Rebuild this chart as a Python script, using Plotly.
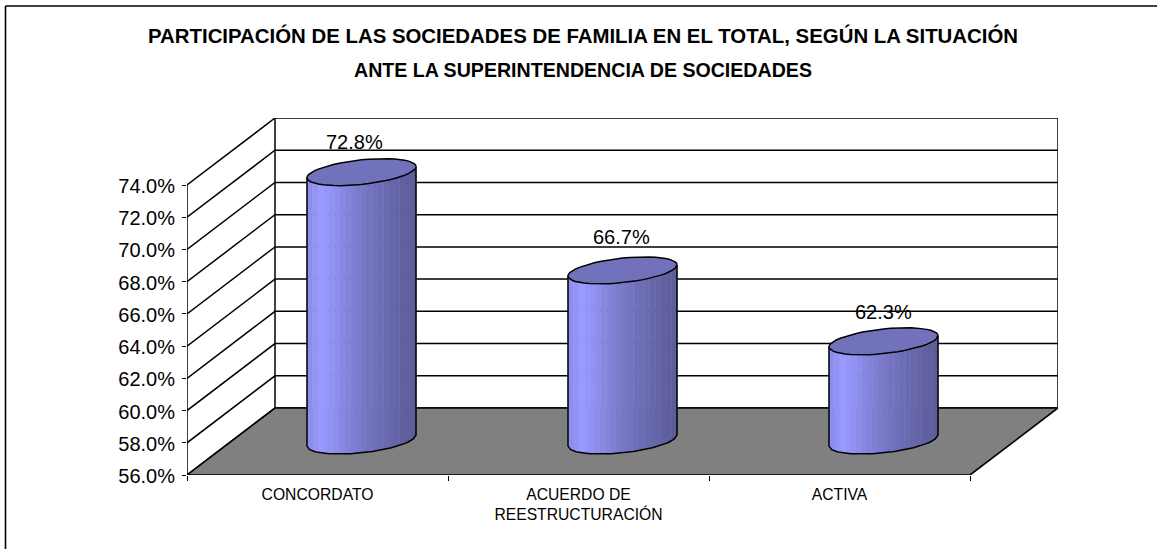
import math
import plotly.graph_objects as go

# ---------- data ----------
categories = ["CONCORDATO", "ACUERDO DE<br>REESTRUCTURACIÓN", "ACTIVA"]
values = [72.8, 66.7, 62.3]
value_labels = ["72.8%", "66.7%", "62.3%"]
y_ticks = [56, 58, 60, 62, 64, 66, 68, 70, 72, 74]
y_tick_labels = ["56.0%", "58.0%", "60.0%", "62.0%", "64.0%", "66.0%", "68.0%", "70.0%", "72.0%", "74.0%"]
title_line_1 = "PARTICIPACIÓN DE LAS SOCIEDADES DE FAMILIA EN EL TOTAL, SEGÚN LA SITUACIÓN"
title_line_2 = "ANTE LA SUPERINTENDENCIA DE SOCIEDADES"

# ---------- geometry (pixels of the plot frame) ----------
W, H = 1157, 549
LEFT, BOTTOM = 187, 475
CAT_PX = 261.0
UNIT_PX = (475 - 185) / 18.0
DEPTH_X_PX, DEPTH_Y_PX = 88.0, 67.0
DX = DEPTH_X_PX / CAT_PX
DY = DEPTH_Y_PX / UNIT_PX
RIGHT_PX = LEFT + 3 * CAT_PX + DEPTH_X_PX
TOP_PX = BOTTOM - 18 * UNIT_PX - DEPTH_Y_PX
X0, Y0 = 0.0, y_ticks[0]
X1, Y1 = 3.0, y_ticks[-1]
RX_PX = 54.5
TILT_PX, RY_PX = 5.6, 12.3
TOP_DROP_PX, BASE_RISE_PX = 1.3, 1.0
FONT = "Liberation Sans"

STRIPS = ["#8E8EEC", "#9393F4", "#9999FF", "#9696FA", "#9292F3", "#8D8DEB", "#8888E3",
          "#8383DB", "#7F7FD3", "#7B7BCC", "#7777C5", "#7373BF", "#7070BA", "#6D6DB5",
          "#6A6AB0", "#6767AB", "#6464A6", "#6161A1", "#5F5F9E", "#5D5D9A"]
SEAMS = {2: "#B4B4FF", 13: "#8C8CCF", 16: "#8383C3", 18: "#7A7AB3"}
TOP_COLOR = "#7272BC"
FLOOR_COLOR = "#808080"

fig = go.Figure()


def line(xs, ys, width=1.5):
    fig.add_trace(go.Scatter(x=xs, y=ys, mode="lines", cliponaxis=False, hoverinfo="skip",
                             showlegend=False, line=dict(color="black", width=width)))


# back wall + side wall lines
for t in y_ticks:
    line([X0, X0 + DX, X1 + DX], [t, t + DY, t + DY])
line([X0, X0], [Y0, Y1])
line([X0 + DX, X0 + DX], [Y0 + DY, Y1 + DY])
line([X1 + DX, X1 + DX], [Y0 + DY, Y1 + DY])

# floor
fig.add_trace(go.Scatter(x=[X0, X1, X1 + DX, X0 + DX, X0], y=[Y0, Y0, Y0 + DY, Y0 + DY, Y0],
                         mode="lines", fill="toself", fillcolor=FLOOR_COLOR, cliponaxis=False,
                         hoverinfo="skip", showlegend=False, line=dict(color="black", width=1.6)))


# cylinders
def lower(s):
    """Pixel offset (downwards) of the near rim at fraction s in [-1, 1]."""
    return -TILT_PX * s + RY_PX * math.sqrt(max(0.0, 1 - s * s))


annots = []
label_shift = [-7, -1, 0]
label_lift = [30, 33, 29]
N = len(STRIPS)
for i, v in enumerate(values):
    cx = i + 0.5 + DX / 2
    base = Y0 + DY / 2 + BASE_RISE_PX / UNIT_PX
    top = v + DY / 2 - TOP_DROP_PX / UNIT_PX
    rx = RX_PX / CAT_PX
    # body strips
    for k, col in enumerate(STRIPS):
        s0, s1 = -1 + 2 * k / N, -1 + 2 * (k + 1) / N
        ss = [s0 + (s1 - s0) * j / 4 for j in range(5)]
        xs = [cx + s * rx for s in ss] + [cx + s * rx for s in reversed(ss)]
        ys = [base - lower(s) / UNIT_PX for s in ss] + [top - lower(s) / UNIT_PX for s in reversed(ss)]
        xs.append(xs[0]); ys.append(ys[0])
        fig.add_trace(go.Scatter(x=xs, y=ys, mode="lines", fill="toself", fillcolor=col,
                                 line=dict(color=col, width=0.5), cliponaxis=False,
                                 hoverinfo="skip", showlegend=False))
        if k in SEAMS:
            fig.add_trace(go.Scatter(x=[cx + s1 * rx] * 2,
                                     y=[base - lower(s1) / UNIT_PX, top - lower(s1) / UNIT_PX],
                                     mode="lines", line=dict(color=SEAMS[k], width=0.8),
                                     hoverinfo="skip", showlegend=False, cliponaxis=False))
    # outline of sides and near base rim
    ss = [-1 + 2 * j / 40 for j in range(41)]
    xs = [cx - rx] + [cx + s * rx for s in ss] + [cx + rx]
    ys = [top - lower(-1) / UNIT_PX] + [base - lower(s) / UNIT_PX for s in ss] + [top - lower(1) / UNIT_PX]
    line(xs, ys, 1.5)
    # top ellipse
    tt = [2 * math.pi * j / 48 for j in range(49)]
    xs = [cx + rx * math.cos(a) for a in tt]
    ys = [top + (TILT_PX * math.cos(a) + RY_PX * math.sin(a)) / UNIT_PX for a in tt]
    fig.add_trace(go.Scatter(x=xs, y=ys, mode="lines", fill="toself", fillcolor=TOP_COLOR,
                             line=dict(color="black", width=1.5), cliponaxis=False,
                             hoverinfo="skip", showlegend=False))
    annots.append(dict(x=cx, y=top, text=value_labels[i], showarrow=False, xanchor="center",
                       yanchor="middle", xshift=label_shift[i], yshift=label_lift[i],
                       font=dict(family=FONT, size=20, color="black")))

# title second line
annots.append(dict(xref="paper", yref="paper", x=(583 - LEFT) / (RIGHT_PX - LEFT),
                   y=(BOTTOM - 70) / (BOTTOM - TOP_PX), xanchor="center", yanchor="middle",
                   text=title_line_2, showarrow=False,
                   font=dict(family=FONT, size=19.6, color="black", weight="bold")))

px = lambda p: (p - LEFT) / (RIGHT_PX - LEFT)
py = lambda p: (BOTTOM - p) / (BOTTOM - TOP_PX)
shapes = [dict(type="line", xref="paper", yref="paper", x0=px(5.5), x1=px(W + 5), y0=py(6), y1=py(6),
               line=dict(color="black", width=1.6)),
          dict(type="line", xref="paper", yref="paper", x0=px(5.5), x1=px(5.5), y0=py(6), y1=py(H + 5),
               line=dict(color="black", width=1.6))]

fig.update_layout(
    width=W, height=H, autosize=False,
    margin=dict(l=LEFT, r=W - RIGHT_PX, t=TOP_PX, b=H - BOTTOM, pad=0),
    paper_bgcolor="white", plot_bgcolor="white", showlegend=False,
    title=dict(text=title_line_1, x=583 / W, xanchor="center", xref="container",
               y=1 - 36 / H, yanchor="middle", yref="container",
               font=dict(family=FONT, size=20.4, color="black", weight="bold")),
    annotations=annots, shapes=shapes,
    xaxis=dict(range=[X0, X1 + DX], showgrid=False, zeroline=False, showline=False,
               tickmode="array", tickvals=[0.5, 1.5, 2.5], ticktext=categories, ticks="",
               tickangle=0, ticklabelstandoff=8, tickfont=dict(family=FONT, size=15.7, color="black"),
               minor=dict(tickmode="array", tickvals=[0, 1, 2, 3], ticks="outside", ticklen=5,
                          tickcolor="black", tickwidth=1.3, showgrid=False)),
    yaxis=dict(range=[Y0, Y1 + DY], showgrid=False, zeroline=False, showline=False,
               tickmode="array", tickvals=y_ticks, ticktext=y_tick_labels, ticks="outside",
               ticklen=4, tickwidth=1.3, tickcolor="black", ticklabelstandoff=3, ticklabelshift=1,
               tickfont=dict(family=FONT, size=20, color="black")),
)

fig.write_html("out.html", config=dict(displayModeBar=False),
               post_script="document.body.style.margin='0';document.body.style.overflow='hidden';")
